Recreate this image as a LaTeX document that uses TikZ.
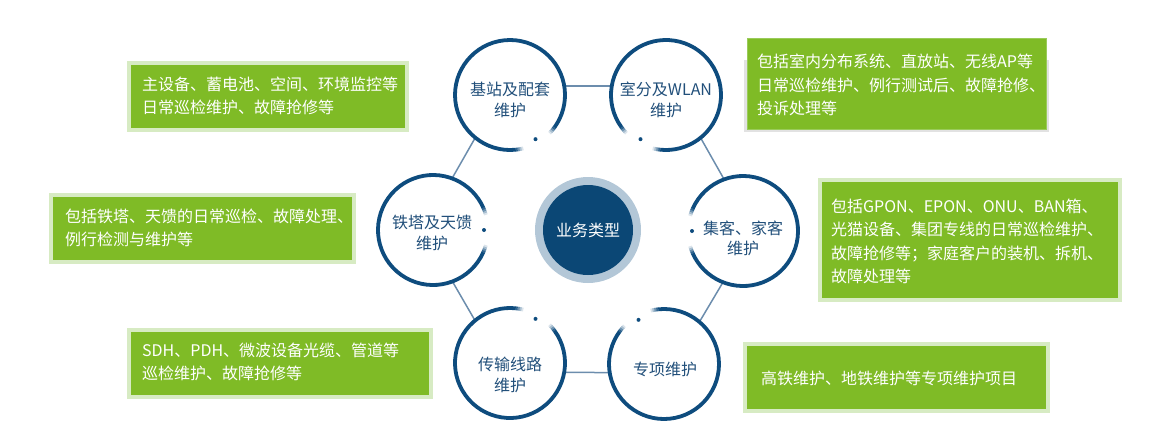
\documentclass[tikz,border=0pt]{standalone}
\usepackage{fontspec}
\setmainfont{Noto Sans CJK SC}
\usetikzlibrary{calc,backgrounds}
\definecolor{ringc}{HTML}{0E4C7E}
\definecolor{coreblue}{HTML}{0B4775}
\definecolor{corering}{HTML}{B3C7D7}
\definecolor{txtblue}{HTML}{214F7A}
\definecolor{linkc}{HTML}{6C8DAD}
\definecolor{leaf}{HTML}{7FBB26}
\definecolor{leafedge}{HTML}{D7EBC3}
\definecolor{leafline}{HTML}{9ACB5A}
\definecolor{shade}{HTML}{E2E2E2}
\newcommand\gapring[2]{%
  \draw[ringline] (#1) ++({#2+24}:55) arc[start angle={#2+24}, end angle={#2+336}, radius=55];
  \foreach \s/\o in {16/0.15,18/0.35,20/0.6,22/0.85}{%
    \draw[ringline, draw opacity=\o] (#1) ++({#2+\s}:55) arc[start angle={#2+\s}, end angle={#2+\s+2.2}, radius=55];
    \draw[ringline, draw opacity=\o] (#1) ++({#2-\s}:55) arc[start angle={#2-\s}, end angle={#2-\s-2.2}, radius=55];
  }%
  \fill[ringc] (#1) ++(#2:51) circle[radius=2];
}
\begin{document}
\begin{tikzpicture}[x=1pt,y=-1pt,
  hub/.style={circle, minimum size=110, inner sep=0, fill=white},
  ringline/.style={draw=ringc, line width=3.8},
  ctext/.style={align=center, text=txtblue, font=\fontsize{16}{20.5}\selectfont, inner sep=0},
  link/.style={draw=linkc, line width=1.5},
  bx/.style={draw=leafedge, line width=4, fill=leaf, inner sep=0},
  btext/.style={align=left, text=white, font=\fontsize{16}{23.5}\selectfont, inner sep=0, anchor=west}]
\useasboundingbox (0,0) rectangle (1154,437);

% boxes
\node[bx, minimum width=278, minimum height=67] (b1) at (268,96.5) {};
\node[btext] (b1t) at (142,96) {主设备、蓄电池、空间、环境监控等\\日常巡检维护、故障抢修等};

\node[fill=shade, inner sep=0, minimum width=305, minimum height=72] (b2s) at (896.5,96) {};
\node[draw=leafline, line width=1, fill=leaf, inner sep=0, minimum width=299, minimum height=91] (b2) at (896.5,83.5) {};
\node[btext] (b2t) at (757,85) {包括室内分布系统、直放站、无线AP等\\日常巡检维护、例行测试后、故障抢修、\\投诉处理等};

\node[bx, minimum width=303, minimum height=67] (b3) at (202.5,228.5) {};
\node[btext] (b3t) at (65,228) {包括铁塔、天馈的日常巡检、故障处理、\\例行检测与维护等};

\node[bx, minimum width=300, minimum height=120] (b4) at (970,240) {};
\node[btext] (b4t) at (831,241.5) {包括GPON、EPON、ONU、BAN箱、\\光猫设备、集团专线的日常巡检维护、\\故障抢修等；家庭客户的装机、拆机、\\故障处理等};

\node[bx, minimum width=302, minimum height=67] (b5) at (280,363.5) {};
\node[btext] (b5t) at (142,362) {SDH、PDH、微波设备光缆、管道等\\巡检维护、故障抢修等};

\node[bx, minimum width=303, minimum height=67] (b6) at (896.5,377.5) {};
\node[btext] (b6t) at (761,378) {高铁维护、地铁维护等专项维护项目};

% center
\node[circle, fill=corering, minimum size=106, inner sep=0] (ctr) at (588,230) {};
\node[circle, fill=coreblue, minimum size=90, inner sep=0] (core) at (ctr) {};
\node[ctext, text=white] (coret) at (588,230) {业务类型};

% hubs
\node[hub] (tl) at (510,95) {};
\node[hub] (tr) at (666,95) {};
\node[hub] (l) at (433,230) {};
\node[hub] (r) at (743,231) {};
\node[hub] (bl) at (510,363) {};
\node[hub] (br) at (664,364) {};

\gapring{tl}{60}
\gapring{tr}{120}
\gapring{l}{0}
\gapring{r}{180}
\gapring{bl}{300}
\gapring{br}{240}

\node[ctext] (tlt) at (510,100) {基站及配套\\维护};
\node[ctext] (trt) at (666,100) {室分及WLAN\\维护};
\node[ctext] (lt) at (432,233) {铁塔及天馈\\维护};
\node[ctext] (rt) at (743,238.5) {集客、家客\\维护};
\node[ctext] (blt) at (510,375) {传输线路\\维护};
\node[ctext] (brt) at (665,369) {专项维护};

\begin{scope}[on background layer]
\draw[link] ($(ctr)!1.067!(tl)$) -- ($(ctr)!1.067!(tr)$);
\draw[link] ($(ctr)!1.067!(tr)$) -- ($(ctr)!1.067!(r)$);
\draw[link] ($(ctr)!1.067!(r)$) -- ($(ctr)!1.067!(br)$);
\draw[link] ($(ctr)!1.067!(br)$) -- ($(ctr)!1.067!(bl)$);
\draw[link] ($(ctr)!1.067!(bl)$) -- ($(ctr)!1.067!(l)$);
\draw[link] ($(ctr)!1.067!(l)$) -- ($(ctr)!1.067!(tl)$);
\end{scope}
\end{tikzpicture}
\end{document}
